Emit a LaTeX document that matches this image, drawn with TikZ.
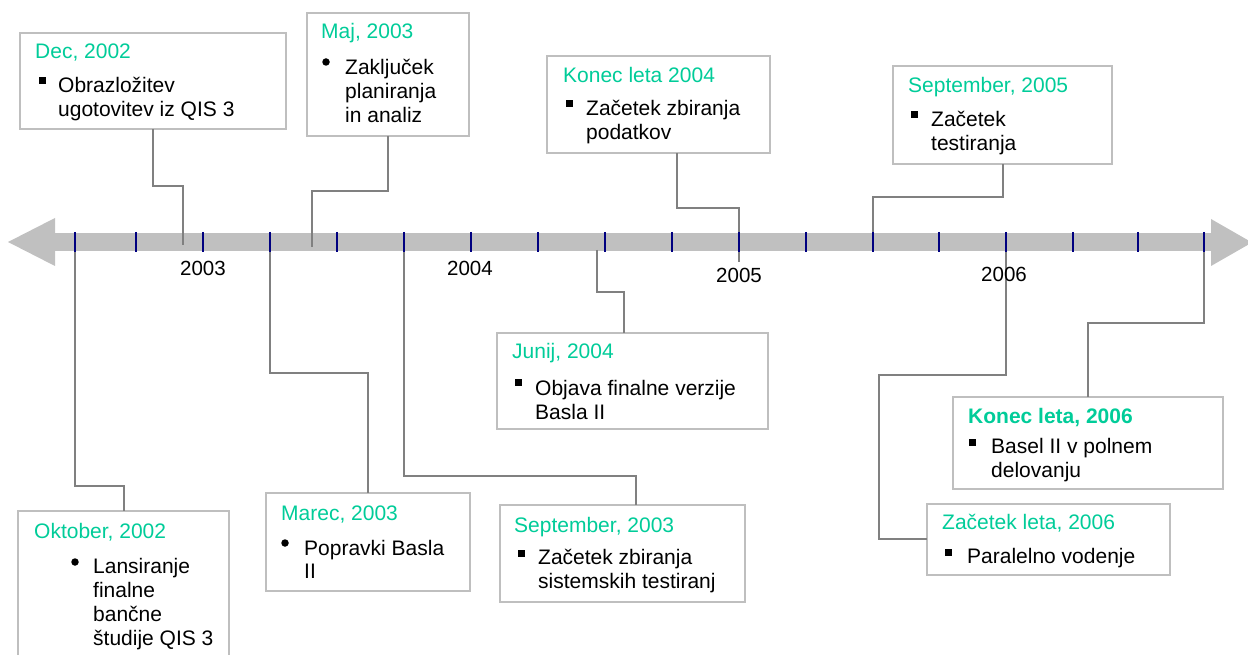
\documentclass[tikz,border=0pt]{standalone}
\usepackage{fontspec}
\setmainfont{Liberation Sans}
\definecolor{ttl}{RGB}{0,204,153}
\definecolor{boxgray}{RGB}{191,191,191}
\definecolor{conngray}{RGB}{128,128,128}
\definecolor{axisgray}{RGB}{192,192,192}
\definecolor{tickblue}{RGB}{0,0,128}
\tikzset{
  evbox/.style={draw=boxgray, line width=2pt, fill=white, rectangle, inner sep=0pt, outer sep=0pt, anchor=north west},
  conn/.style={draw=conngray, line width=2pt},
  ttltext/.style={anchor=base west, inner sep=0pt, text=ttl, font=\fontsize{21}{24}\selectfont},
  bodytext/.style={anchor=base west, inner sep=0pt, font=\fontsize{21}{24}\selectfont},
  yeartext/.style={anchor=base, inner sep=0pt, font=\fontsize{20.5}{24}\selectfont},
  sqb/.style={fill=black, rectangle, minimum size=7pt, inner sep=0pt},
  rdb/.style={fill=black, circle, minimum size=7.5pt, inner sep=0pt},
  tickmark/.style={draw=tickblue, line width=2.5pt},
}
\begin{document}
\begin{tikzpicture}[x=1pt,y=-1pt]
\useasboundingbox (0,0) rectangle (1248,655);
% axis
\fill[axisgray] (55,233) rectangle (1211,251);
\fill[axisgray] (8,242) -- (55,218) -- (55,266) -- cycle;
\fill[axisgray] (1211,219) -- (1252,242.5) -- (1211,266) -- cycle;
% axis coordinates
\coordinate (aDec) at (183,245);
\coordinate (aMaj) at (312,247);
\coordinate (aKon4) at (739,262);
\coordinate (aSep5) at (873,252);
\coordinate (aOkt) at (75,250);
\coordinate (aMar) at (270,250);
\coordinate (aSep3) at (404,250);
\coordinate (aJun) at (597,250);
\coordinate (aKon6) at (1204,250);
\coordinate (aZac6) at (1006,250);
% boxes
\node[evbox, minimum width=266pt, minimum height=96pt] (dec) at (20,33) {};
\node[evbox, minimum width=162pt, minimum height=123pt] (maj) at (307,13) {};
\node[evbox, minimum width=223pt, minimum height=97pt] (kon4) at (547,56) {};
\node[evbox, minimum width=219pt, minimum height=98pt] (sep5) at (893,66) {};
\node[evbox, minimum width=211pt, minimum height=160pt] (okt) at (18,511) {};
\node[evbox, minimum width=204pt, minimum height=98pt] (mar) at (266,493) {};
\node[evbox, minimum width=245pt, minimum height=97pt] (sep3) at (500,505) {};
\node[evbox, minimum width=271pt, minimum height=96pt] (jun) at (497,333) {};
\node[evbox, minimum width=270pt, minimum height=92pt] (kon6) at (953,397) {};
\node[evbox, minimum width=243pt, minimum height=71pt] (zac6) at (927,504) {};
% connectors
\draw[conn] (dec.south -| 153,0) -- (153,186) -| (aDec);
\draw[conn] (maj.south -| 388,0) -- (388,191) -| (aMaj);
\draw[conn] (kon4.south -| 677,0) -- (677,208) -| (aKon4);
\draw[conn] (sep5.south -| 1003,0) -- (1003,197) -| (aSep5);
\draw[conn] (aOkt) -- (75,486) -| (okt.north -| 124,0);
\draw[conn] (aMar) -- (270,373) -| (mar.north -| 368,0);
\draw[conn] (aSep3) -- (404,476) -| (sep3.north -| 636,0);
\draw[conn] (aJun) -- (597,292) -| (jun.north -| 624,0);
\draw[conn] (aKon6) -- (1204,323) -| (kon6.north -| 1088,0);
\draw[conn] (aZac6) -- (1006,375) -| (879,539) -- (zac6.west |- 0,539);
% ticks
\foreach \tx [count=\i] in {75,136,203,270,337,404,471,538,605,672,739,806,873,939,1006,1073,1138,1204}
  \draw[tickmark] (\tx,232) coordinate (tk\i) -- (\tx,252);
% year labels
\node[yeartext] (y2003) at (203,276) {2003};
\node[yeartext] (y2004) at (470,276) {2004};
\node[yeartext] (y2005) at (739,283) {2005};
\node[yeartext] (y2006) at (1004,282) {2006};
% Dec 2002
\node[ttltext] (decT) at (35,59) {Dec, 2002};
\node[sqb] (decB) at (42,81) {};
\node[bodytext] (dec1) at (58,93) {Obrazložitev};
\node[bodytext] (dec2) at (58,117) {ugotovitev iz QIS 3};
% Maj 2003
\node[ttltext] (majT) at (321,39) {Maj, 2003};
\node[rdb] (majB) at (326,62) {};
\node[bodytext] (maj1) at (345,75) {Zaključek};
\node[bodytext] (maj2) at (345,99) {planiranja};
\node[bodytext] (maj3) at (345,123) {in analiz};
% Konec leta 2004
\node[ttltext] (kon4T) at (563,83) {Konec leta 2004};
\node[sqb] (kon4B) at (569,104) {};
\node[bodytext] (kon41) at (586,116) {Začetek zbiranja};
\node[bodytext] (kon42) at (586,140) {podatkov};
% September 2005
\node[ttltext] (sep5T) at (908,93) {September, 2005};
\node[sqb] (sep5B) at (914,115) {};
\node[bodytext] (sep51) at (931,127) {Začetek};
\node[bodytext] (sep52) at (931,151) {testiranja};
% Oktober 2002
\node[ttltext] (oktT) at (34,538) {Oktober, 2002};
\node[rdb] (oktB) at (75,562) {};
\node[bodytext] (okt1) at (93,573) {Lansiranje};
\node[bodytext] (okt2) at (93,597) {finalne};
\node[bodytext] (okt3) at (93,621) {bančne};
\node[bodytext] (okt4) at (93,645) {študije QIS 3};
% Marec 2003
\node[ttltext] (marT) at (281,520) {Marec, 2003};
\node[rdb] (marB) at (285,543) {};
\node[bodytext] (mar1) at (304,555) {Popravki Basla};
\node[bodytext] (mar2) at (304,578) {II};
% September 2003
\node[ttltext] (sep3T) at (514,532) {September, 2003};
\node[sqb] (sep3B) at (521,553) {};
\node[bodytext] (sep31) at (538,564) {Začetek zbiranja};
\node[bodytext] (sep32) at (538,588) {sistemskih testiranj};
% Junij 2004
\node[ttltext] (junT) at (512,358) {Junij, 2004};
\node[sqb] (junB) at (518,382) {};
\node[bodytext] (jun1) at (535,395) {Objava finalne verzije};
\node[bodytext] (jun2) at (535,419) {Basla II};
% Konec leta, 2006
\node[ttltext, font=\fontsize{21}{24}\selectfont\bfseries] (kon6T) at (968,423) {Konec leta, 2006};
\node[sqb] (kon6B) at (972,442) {};
\node[bodytext] (kon61) at (991,453) {Basel II v polnem};
\node[bodytext] (kon62) at (991,477) {delovanju};
% Zacetek leta, 2006
\node[ttltext] (zac6T) at (942,529) {Začetek leta, 2006};
\node[sqb] (zac6B) at (948,552) {};
\node[bodytext] (zac61) at (967,563) {Paralelno vodenje};
\end{tikzpicture}
\end{document}
